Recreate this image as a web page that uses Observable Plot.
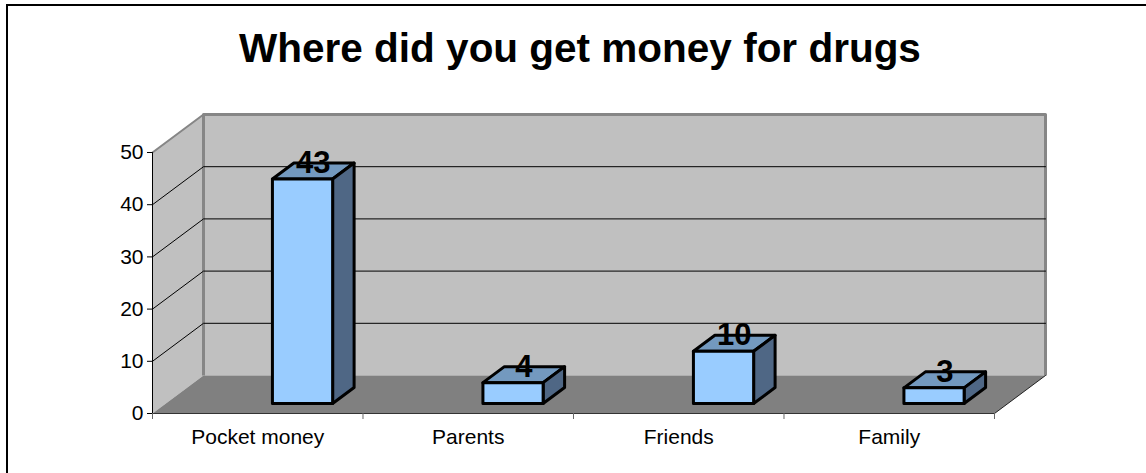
<!DOCTYPE html>
<html><head><meta charset="utf-8">
<script src="https://cdn.jsdelivr.net/npm/d3@7"></script>
<script src="https://cdn.jsdelivr.net/npm/@observablehq/plot@0.6"></script>
<style>
html,body{margin:0;padding:0;background:#fff;width:1146px;height:473px;overflow:hidden;font-family:"Liberation Sans",Arial,sans-serif}
#frame{position:absolute;left:6px;top:4px;width:1200px;height:500px;border:2px solid #000;box-sizing:border-box}
#title{position:absolute;left:0;top:0;width:1160px;height:92px;line-height:96px;text-align:center;font-weight:bold;font-size:40.5px;color:#000}
#chart{position:absolute;left:0;top:92px}
svg{display:block}
</style></head><body>
<div id="frame"></div>
<div id="title">Where did you get money for drugs</div>
<div id="chart"></div>
<script>
const categories = ["Pocket money", "Parents", "Friends", "Family"];
const values = [43, 4, 10, 3];
const yTicks = [0, 10, 20, 30, 40, 50];
const gridValues = [10, 20, 30, 40];
const xEdges = [0, 1, 2, 3, 4];

// oblique projection, in data units
const depthX = 0.2423, depthY = 7.28;
const P = (x, y, d = 0) => ({x: x + d * depthX, y: y + d * depthY});
const barL = 0.506, barR = 0.792, d0 = 0.263, d1 = 0.684;
const poly = (id, pts) => [...pts, pts[0]].map(p => ({...p, id}));

const wallLeft = poly("l", [P(0,0,0), P(0,0,1), P(0,50,1), P(0,50,0)]);
const wallBack = poly("b", [P(0,0,1), P(4,0,1), P(4,50,1), P(0,50,1)]);
const floor = poly("f", [P(0,0,0), P(4,0,0), P(4,0,1), P(0,0,1)]);
const bars = values.map((v, i) => ({v, l: i + barL, r: i + barR}));
const front = bars.flatMap((b, i) => poly(i, [P(b.l,0,d0), P(b.r,0,d0), P(b.r,b.v,d0), P(b.l,b.v,d0)]));
const top_ = bars.flatMap((b, i) => poly(i, [P(b.l,b.v,d0), P(b.r,b.v,d0), P(b.r,b.v,d1), P(b.l,b.v,d1)]));
const side = bars.flatMap((b, i) => poly(i, [P(b.r,0,d0), P(b.r,0,d1), P(b.r,b.v,d1), P(b.r,b.v,d0)]));
const grid = gridValues.flatMap(v => [P(0,v,0), P(0,v,1), P(4,v,1)].map(p => ({...p, id: v})));
const seg = (...pts) => pts;
const labels = bars.map((b, i) => ({
  x: P((b.l + b.r) / 2, b.v, (d0 + d1) / 2).x,
  y: P((b.l + b.r) / 2, b.v, d1).y,
  t: values[i]
}));
const catLabels = categories.map((c, i) => ({x: i + 0.5, c}));

const plot = Plot.plot({
  width: 1146, height: 381,
  marginLeft: 152, marginRight: 101, marginTop: 22, marginBottom: 60,
  style: {fontFamily: '"Liberation Sans", Arial, sans-serif', background: "transparent", color: "#000"},
  x: {domain: [0, 4 + depthX], axis: null},
  y: {domain: [0, 50 + depthY], axis: null},
  marks: [
    Plot.line(wallLeft, {x: "x", y: "y", z: "id", fill: "#c0c0c0", stroke: "none"}),
    Plot.line(wallBack, {x: "x", y: "y", z: "id", fill: "#c0c0c0", stroke: "none"}),
    Plot.line(floor, {x: "x", y: "y", z: "id", fill: "#808080", stroke: "none"}),
    Plot.line(seg(P(0,0,1), P(0,50,1), P(4,50,1), P(4,0,1)), {x: "x", y: "y", stroke: "#868686", strokeWidth: 3, strokeLinecap: "butt"}),
    Plot.line(seg(P(0,50,0), P(0,50,1)), {x: "x", y: "y", stroke: "#868686", strokeWidth: 2}),
    Plot.line(seg(P(4,0,0), P(4,0,1)), {x: "x", y: "y", stroke: "#222", strokeWidth: 1}),
    Plot.line(grid, {x: "x", y: "y", z: "id", stroke: "#000", strokeWidth: 1}),
    Plot.line(seg(P(0,0,0), P(4,0,0)), {x: "x", y: "y", stroke: "#333", strokeWidth: 1}),
    Plot.line(seg(P(0,0,0), P(0,50,0)), {x: "x", y: "y", stroke: "#000", strokeWidth: 1}),
    Plot.line(top_, {x: "x", y: "y", z: "id", fill: "#7399bf", stroke: "#000", strokeWidth: 3, strokeLinejoin: "round"}),
    Plot.line(side, {x: "x", y: "y", z: "id", fill: "#4f6785", stroke: "#000", strokeWidth: 3, strokeLinejoin: "round"}),
    Plot.line(front, {x: "x", y: "y", z: "id", fill: "#99ccff", stroke: "#000", strokeWidth: 3, strokeLinejoin: "round"}),
    Plot.text(labels, {x: "x", y: "y", text: "t", fontSize: 31, fontWeight: "bold", fill: "#000", textAnchor: "middle", lineAnchor: "middle"}),
    Plot.axisY(yTicks, {anchor: "left", tickSize: 5, tickPadding: 4, fontSize: 21, label: null, stroke: "#000"}),
    Plot.axisX(xEdges, {anchor: "bottom", tickSize: 6, stroke: "#666", label: null, tickFormat: () => ""}),
    Plot.text(catLabels, {x: "x", y: 0, text: "c", dy: 24, fontSize: 21, fill: "#000", lineAnchor: "middle"})
  ]
});
document.getElementById("chart").append(plot);
</script>
</body></html>
